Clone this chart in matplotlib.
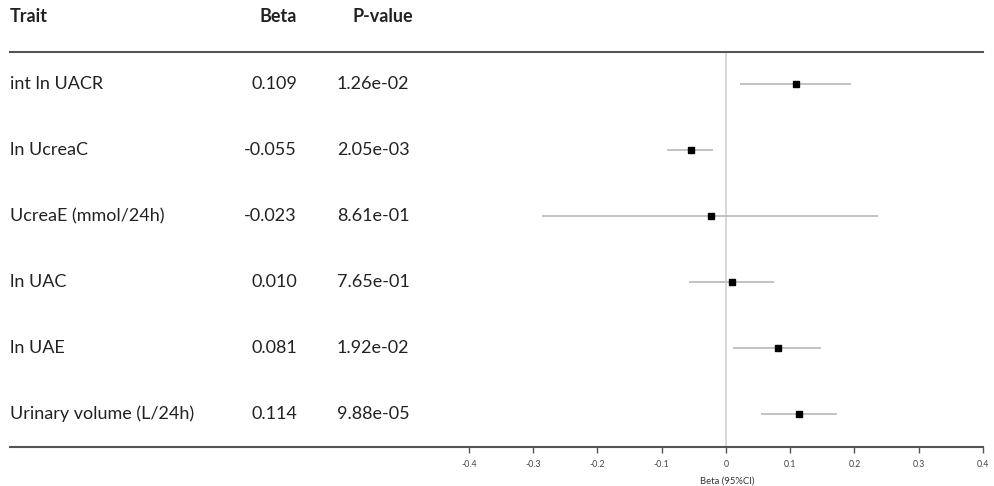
import matplotlib

matplotlib.use("Agg")
import matplotlib.pyplot as plt
from matplotlib.transforms import blended_transform_factory

traits = ["int ln UACR", "ln UcreaC", "UcreaE (mmol/24h)", "ln UAC", "ln UAE",
          "Urinary volume (L/24h)"]
beta = [0.109, -0.055, -0.023, 0.010, 0.081, 0.114]
ci_lo = [0.022, -0.092, -0.286, -0.057, 0.011, 0.055]
ci_hi = [0.194, -0.020, 0.237, 0.074, 0.148, 0.172]
pvals = ["1.26e-02", "2.05e-03", "8.61e-01", "7.65e-01", "1.92e-02", "9.88e-05"]
xticks = [-0.4, -0.3, -0.2, -0.1, 0, 0.1, 0.2, 0.3, 0.4]

plt.rcParams["font.family"] = ["Lato", "DejaVu Sans"]

W, H = 995, 486
fig = plt.figure(figsize=(W / 100, H / 100), dpi=100)

# axes spans the whole table width; x scale set so -0.4 sits at px 469, 0.4 at px 983
x_left, x_right = 10, 983
y_top, y_bot = 52, 447
ax = fig.add_axes([x_left / W, 1 - y_bot / H, (x_right - x_left) / W, (y_bot - y_top) / H])
ppu = (983 - 469) / 0.8
ax.set_xlim(-0.4 - (469 - x_left) / ppu, 0.4)
ax.set_ylim(len(traits) - 0.5, -0.49)

rows = range(len(traits))
ax.axvline(0, color="#d4d4d4", lw=1.3, zorder=1)
ax.hlines(list(rows), ci_lo, ci_hi, color="#bdbdbd", lw=1.3, zorder=2)
ax.plot(beta, list(rows), ls="none", marker="s", ms=4.6, color="black", zorder=3)

for s in ["left", "right"]:
    ax.spines[s].set_visible(False)
for s in ["top", "bottom"]:
    ax.spines[s].set_color("#555555")
    ax.spines[s].set_linewidth(1.5)

ax.set_yticks([])
ax.set_xticks(xticks)
ax.set_xticklabels([f"{t:g}" for t in xticks], fontsize=6.3, color="#444444")
ax.tick_params(axis="x", length=4, width=1, color="#555555", pad=5)
ax.set_xlabel("Beta (95%CI)", fontsize=6.8, color="#333333", labelpad=1)
ax.xaxis.set_label_coords((727 - x_left) / (x_right - x_left), -0.075)

tr = blended_transform_factory(fig.transFigure, ax.transData)
fs = 13
tc = "#222222"
for i in rows:
    ax.text(10 / W, i, traits[i], transform=tr, fontsize=fs, va="center", ha="left", color=tc)
    ax.text(297 / W, i, f"{beta[i]:.3f}", transform=tr, fontsize=fs, va="center", ha="right",
            color=tc)
    ax.text(337 / W, i, pvals[i], transform=tr, fontsize=fs, va="center", ha="left", color=tc)

hy = 1 - 17 / H
fig.text(10 / W, hy, "Trait", fontsize=fs, fontweight="bold", va="center", ha="left", color=tc)
fig.text(297 / W, hy, "Beta", fontsize=fs, fontweight="bold", va="center", ha="right", color=tc)
fig.text(352 / W, hy, "P-value", fontsize=fs, fontweight="bold", va="center", ha="left",
         color=tc)

fig.savefig("out.png", dpi=100)
